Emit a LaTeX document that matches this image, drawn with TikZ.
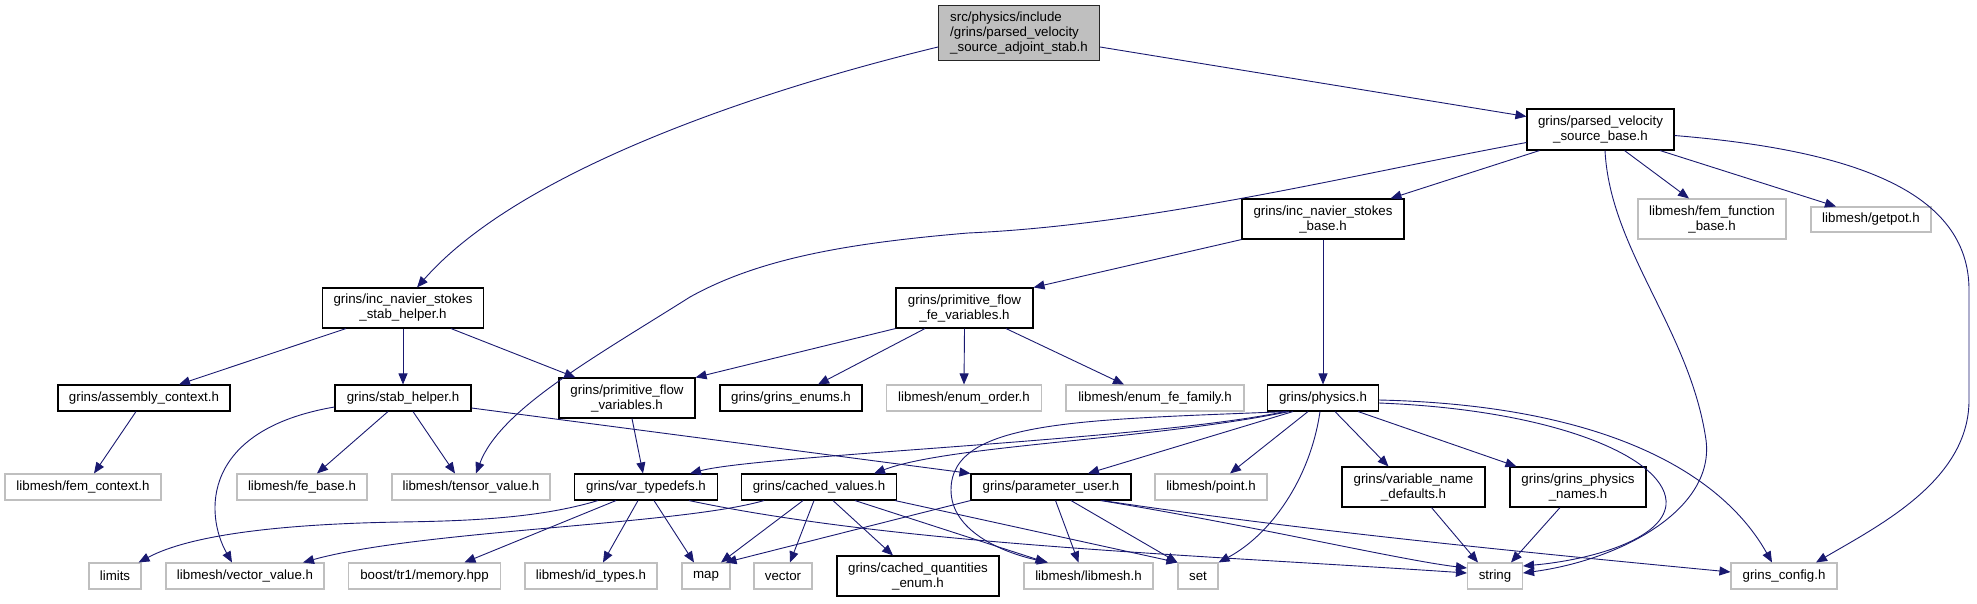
\documentclass[tikz,border=0pt]{standalone}
\usepackage{fontspec}
\setmainfont{Liberation Sans}
\usetikzlibrary{calc,arrows.meta}
\definecolor{edgeblue}{HTML}{191970}
\definecolor{extgray}{HTML}{BFBFBF}
\definecolor{rootgray}{HTML}{BFBFBF}
\tikzset{
  base/.style={draw, line width=1.1pt, inner sep=0pt, font=\fontsize{13.3}{15}\selectfont, align=center, text=black},
  doc/.style={base, draw=black},
  ext/.style={base, draw=extgray},
  rootbox/.style={base, draw=black!85, fill=rootgray, align=left},
  dep/.style={draw=edgeblue, line width=0.9pt, -{Triangle[length=11pt,width=9pt]}},
}
\begin{document}
\begin{tikzpicture}[x=1pt,y=-1pt]
\useasboundingbox (0,0) rectangle (1977,603);
% nodes
\node[rootbox, minimum width=161pt, minimum height=55pt] (nroot) at (1019,33) {src/physics/include\\/grins/parsed\_velocity\\\_source\_adjoint\_stab.h};
\node[doc, minimum width=147pt, minimum height=41pt] (npvsb) at (1600.5,129.5) {grins/parsed\_velocity\\\_source\_base.h};
\node[ext, minimum width=148pt, minimum height=40pt] (nffb) at (1712,219) {libmesh/fem\_function\\\_base.h};
\node[ext, minimum width=120pt, minimum height=25pt] (ngetpot) at (1871,219.5) {libmesh/getpot.h};
\node[doc, minimum width=162pt, minimum height=40pt] (ninsb) at (1323,219) {grins/inc\_navier\_stokes\\\_base.h};
\node[doc, minimum width=161pt, minimum height=40pt] (ninssh) at (403,308) {grins/inc\_navier\_stokes\\\_stab\_helper.h};
\node[doc, minimum width=137pt, minimum height=40pt] (npffv) at (964.5,308) {grins/primitive\_flow\\\_fe\_variables.h};
\node[doc, minimum width=172pt, minimum height=26pt] (nasm) at (144,398) {grins/assembly\_context.h};
\node[doc, minimum width=136pt, minimum height=26pt] (nstab) at (403,398) {grins/stab\_helper.h};
\node[doc, minimum width=136pt, minimum height=40pt] (npfv) at (627,398) {grins/primitive\_flow\\\_variables.h};
\node[doc, minimum width=142pt, minimum height=26pt] (nenums) at (791,398) {grins/grins\_enums.h};
\node[ext, minimum width=155pt, minimum height=26pt] (norder) at (964,398) {libmesh/enum\_order.h};
\node[ext, minimum width=178pt, minimum height=26pt] (nfefam) at (1155,398) {libmesh/enum\_fe\_family.h};
\node[doc, minimum width=111pt, minimum height=26pt] (nphysics) at (1323,398) {grins/physics.h};
\node[ext, minimum width=156pt, minimum height=26pt] (nfemctx) at (83,487) {libmesh/fem\_context.h};
\node[ext, minimum width=130pt, minimum height=26pt] (nfebase) at (302,487) {libmesh/fe\_base.h};
\node[ext, minimum width=158pt, minimum height=26pt] (ntensor) at (471,487) {libmesh/tensor\_value.h};
\node[doc, minimum width=143pt, minimum height=26pt] (nvartd) at (646,487) {grins/var\_typedefs.h};
\node[doc, minimum width=155pt, minimum height=26pt] (ncached) at (819,487) {grins/cached\_values.h};
\node[doc, minimum width=160pt, minimum height=26pt] (nparam) at (1051,487) {grins/parameter\_user.h};
\node[ext, minimum width=112pt, minimum height=26pt] (npoint) at (1211,487) {libmesh/point.h};
\node[doc, minimum width=143pt, minimum height=40pt] (nvarname) at (1413.5,487) {grins/variable\_name\\\_defaults.h};
\node[doc, minimum width=136pt, minimum height=40pt] (nphysnames) at (1578,487) {grins/grins\_physics\\\_names.h};
\node[ext, minimum width=52pt, minimum height=26pt] (nlimits) at (115,576) {limits};
\node[ext, minimum width=158pt, minimum height=26pt] (nvecval) at (245,576) {libmesh/vector\_value.h};
\node[ext, minimum width=152pt, minimum height=26pt] (nmemory) at (424.5,576) {boost/tr1/memory.hpp};
\node[ext, minimum width=132pt, minimum height=26pt] (nidtypes) at (591,576) {libmesh/id\_types.h};
\node[ext, minimum width=48pt, minimum height=26pt] (nmap) at (706,576) {map};
\node[ext, minimum width=58pt, minimum height=26pt] (nvector) at (783,576) {vector};
\node[doc, minimum width=162pt, minimum height=40pt] (ncqe) at (918,576) {grins/cached\_quantities\\\_enum.h};
\node[ext, minimum width=129pt, minimum height=26pt] (nlibmesh) at (1088.5,576) {libmesh/libmesh.h};
\node[ext, minimum width=40pt, minimum height=26pt] (nset) at (1198,576) {set};
\node[ext, minimum width=55pt, minimum height=26pt] (nstring) at (1495,576) {string};
\node[ext, minimum width=106pt, minimum height=26pt] (nconfig) at (1784,576) {grins\_config.h};
% edges from root
\draw[dep] ($(nroot.west)+(0,14)$) .. controls (760,90) and (520,170) .. ($(ninssh.north)+(14,0)$);
\draw[dep] ($(nroot.east)+(0,14)$) -- ($(npvsb.west)+(0,-13)$);
% edges from parsed_velocity_source_base
\draw[dep] ($(npvsb.south west)+(13,0)$) -- ($(ninsb.north east)+(-14,0)$);
\draw[dep] ($(npvsb.west)+(0,13)$) .. controls (1350,175) and (1150,225) .. (968,233)
   .. controls (850,243) and (760,258) .. (690,297)
   .. controls (590,360) and (500,410) .. ($(ntensor.north)+(5,0)$);
\draw[dep] ($(npvsb.south)+(4.5,0)$) .. controls (1610,250) and (1690,330) .. (1706,440)
   .. controls (1715,510) and (1620,560) .. ($(nstring.east)+(0,-3)$);
\draw[dep] ($(npvsb.south)+(24,0)$) -- ($(nffb.north)+(-23,0)$);
\draw[dep] ($(npvsb.south east)+(-14.5,0)$) -- ($(ngetpot.north)+(-35,0)$);
\draw[dep] ($(npvsb.east)+(0,6)$) .. controls (1850,150) and (1969,190) .. (1969,290)
   -- (1969,400) .. controls (1969,480) and (1880,525) .. ($(nconfig.north)+(32,0)$);
% inc_navier_stokes_base
\draw[dep] (ninsb.south west) -- (npffv.north east);
\draw[dep] (ninsb.south) -- (nphysics.north);
% inc_navier_stokes_stab_helper
\draw[dep] ($(ninssh.south)+(-57,0)$) -- ($(nasm.north)+(35,0)$);
\draw[dep] (ninssh.south) -- (nstab.north);
\draw[dep] ($(ninssh.south)+(48,0)$) -- ($(npfv.north west)+(17,0)$);
% primitive_flow_fe_variables
\draw[dep] (npffv.south west) -- (npfv.north east);
\draw[dep] ($(npffv.south)+(-39.5,0)$) -- ($(nenums.north)+(27,0)$);
\draw[dep] (npffv.south) -- (norder.north);
\draw[dep] ($(npffv.south)+(41.5,0)$) -- ($(nfefam.north)+(-31,0)$);
% assembly_context
\draw[dep] ($(nasm.south)+(-8,0)$) -- ($(nfemctx.north)+(11,0)$);
% stab_helper
\draw[dep] ($(nstab.west)+(0,9)$) .. controls (200,430) and (205,515) .. ($(nvecval.north)+(-13,0)$);
\draw[dep] ($(nstab.south)+(-15,0)$) -- ($(nfebase.north)+(15,0)$);
\draw[dep] ($(nstab.south)+(10,0)$) -- ($(ntensor.north)+(-16,0)$);
\draw[dep] ($(nstab.east)+(0,10)$) -- (nparam.north west);
% primitive_flow_variables
\draw[dep] ($(npfv.south)+(5,0)$) -- ($(nvartd.north)+(-3,0)$);
% physics
\draw[dep] ($(nphysics.south west)+(18,0)$) .. controls (1150,440) and (760,455) .. ($(nvartd.north east)+(-28,0)$);
\draw[dep] ($(nphysics.south west)+(22,0)$) .. controls (1150,440) and (950,445) .. ($(ncached.north)+(55,0)$);
\draw[dep] ($(nphysics.south west)+(26,0)$) -- ($(nparam.north)+(37,0)$);
\draw[dep] ($(nphysics.south west)+(20,0)$) .. controls (1080,420) and (951,420) .. (951,490)
   .. controls (951,530) and (1000,552) .. ($(nlibmesh.north)+(-40.5,0)$);
\draw[dep] ($(nphysics.south)+(-15,0)$) -- ($(npoint.north)+(19,0)$);
\draw[dep] ($(nphysics.south)+(-3,0)$) .. controls (1310,480) and (1270,535) .. (nset.north east);
\draw[dep] ($(nphysics.south)+(12,0)$) -- ($(nvarname.north)+(-25,0)$);
\draw[dep] ($(nphysics.south east)+(-21,0)$) -- ($(nphysnames.north west)+(7,0)$);
\draw[dep] ($(nphysics.east)+(0,5)$) .. controls (1560,410) and (1670,460) .. (1666,505)
   .. controls (1662,540) and (1590,560) .. ($(nstring.east)+(0,-10)$);
\draw[dep] ($(nphysics.east)+(0,2)$) .. controls (1600,405) and (1720,470) .. ($(nconfig.north)+(-12,0)$);
% var_typedefs
\draw[dep] ($(nvartd.south west)+(24,0)$) .. controls (540,518) and (470,521) .. (400,522)
   .. controls (280,524) and (190,535) .. ($(nlimits.north east)+(-3,0)$);
\draw[dep] ($(nvartd.south)+(-30,0)$) -- ($(nmemory.north)+(40,0)$);
\draw[dep] ($(nvartd.south)+(-8,0)$) -- ($(nidtypes.north)+(12,0)$);
\draw[dep] ($(nvartd.south)+(8,0)$) -- ($(nmap.north)+(-12,0)$);
\draw[dep] ($(nvartd.south)+(43,0)$) .. controls (900,545) and (1200,555) .. ($(nstring.west)+(0,-3)$);
% cached_values
\draw[dep] ($(ncached.south west)+(23,0)$) .. controls (680,525) and (420,530) .. ($(nvecval.north)+(58,0)$);
\draw[dep] ($(ncached.south)+(-16,0)$) -- ($(nmap.north)+(15,0)$);
\draw[dep] ($(ncached.south)+(-5,0)$) -- ($(nvector.north)+(7,0)$);
\draw[dep] ($(ncached.south)+(14,0)$) -- ($(ncqe.north)+(-25,0)$);
\draw[dep] ($(ncached.south)+(36,0)$) -- ($(nlibmesh.north)+(-42,0)$);
\draw[dep] ($(ncached.south)+(76,0)$) -- (nset.north west);
% parameter_user
\draw[dep] (nparam.south west) -- ($(nmap.north east)+(-5,0)$);
\draw[dep] ($(nparam.south)+(4.5,0)$) -- ($(nlibmesh.north)+(-10,0)$);
\draw[dep] ($(nparam.south)+(20,0)$) -- (nset.north west);
\draw[dep] ($(nparam.south east)+(-31,0)$) .. controls (1250,525) and (1400,560) .. ($(nstring.west)+(0,-8)$);
\draw[dep] ($(nparam.south east)+(-29,0)$) .. controls (1300,530) and (1500,550) .. ($(nconfig.west)+(0,-4)$);
% variable_name_defaults, grins_physics_names
\draw[dep] ($(nvarname.south)+(18,0)$) -- ($(nstring.north)+(-17,0)$);
\draw[dep] ($(nphysnames.south)+(-18,0)$) -- ($(nstring.north)+(16,0)$);
\end{tikzpicture}
\end{document}
